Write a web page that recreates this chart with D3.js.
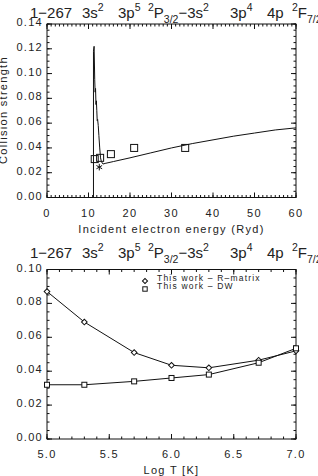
<!DOCTYPE html>
<html>
<head>
<meta charset="utf-8">
<script src="https://cdn.jsdelivr.net/npm/d3@7"></script>
<style>
  body { margin: 0; background: #fff; }
  svg { display: block; font-family: "Liberation Sans", Arial, sans-serif; }
  .lbl { fill: #222; font-size: 11px; letter-spacing: 1.3px; }
  .ttl { fill: #222; font-size: 15px; }
</style>
</head>
<body>
<div id="chart"></div>
<script>
// top panel: collision strength vs incident electron energy
const rmCurveE = [11.2, 11.2, 11.35, 11.5, 11.6, 11.7, 11.8, 11.9, 12.0, 12.1, 12.2, 12.35, 12.5, 12.7, 12.9, 13.1, 13.5, 14, 16, 20, 25, 30, 35, 40, 45, 50, 55, 60];
const rmCurveO = [0.0, 0.118, 0.122, 0.095, 0.085, 0.088, 0.075, 0.078, 0.07, 0.062, 0.063, 0.058, 0.05, 0.04, 0.032, 0.029, 0.027, 0.0275, 0.029, 0.032, 0.036, 0.0400, 0.0435, 0.0465, 0.0495, 0.052, 0.0545, 0.0562];
const dwE = [11.5, 12.8, 15.4, 21.0, 33.3];
const dwO = [0.031, 0.032, 0.035, 0.040, 0.040];
const starE = [12.6];
const starO = [0.0245];
const energyTicks = [0, 10, 20, 30, 40, 50, 60];
const omegaTicks = [0.00, 0.02, 0.04, 0.06, 0.08, 0.10, 0.12, 0.14];

// bottom panel: effective collision strength vs log T
const logT = [5.0, 5.3, 5.7, 6.0, 6.3, 6.7, 7.0];
const upsRm = [0.087, 0.069, 0.051, 0.0435, 0.042, 0.0465, 0.052];
const upsDw = [0.032, 0.032, 0.034, 0.036, 0.038, 0.045, 0.0535];
const logTTicks = [5.0, 5.5, 6.0, 6.5, 7.0];
const upsTicks = [0.00, 0.02, 0.04, 0.06, 0.08, 0.10];
const legendLabels = ["This work \u2013 R\u2013matrix", "This work \u2013 DW"];

// title pieces: [text, kind, group start x] kind 0 normal, 1 superscript, -1 subscript
const titleParts = [
    ["1\u2212267", 0, 30], ["3s", 0, 82], ["2", 1], ["3p", 0, 118], ["5", 1],
    ["2", 1, 148], ["P", 0], ["3/2", -1], ["\u22123s", 0], ["2", 1],
    ["3p", 0, 230], ["4", 1], ["4p", 0, 267], ["2", 1, 292], ["F", 0], ["7/2", -1]
];

const W = 318, H = 476;
const svg = d3.select("#chart").append("svg")
    .attr("width", W)
    .attr("height", H);

// framed IDL-style box with inward ticks on all four sides
function frame(x, y, xTicks, xMinor, yTicks, yMinor, xFmt, yFmt) {
    const g = svg.append("g");
    const [x0, x1] = x.range(), [y0, y1] = y.range();
    const ink = "#111";
    g.append("rect")
        .attr("x", x0).attr("y", y1)
        .attr("width", x1 - x0).attr("height", y0 - y1)
        .attr("fill", "none").attr("stroke", ink).attr("stroke-width", 1);
    const tick = (xa, ya, xb, yb) => g.append("line")
        .attr("x1", xa).attr("y1", ya).attr("x2", xb).attr("y2", yb)
        .attr("stroke", ink).attr("stroke-width", 1);
    xMinor.forEach(v => { tick(x(v), y0, x(v), y0 - 2.5); tick(x(v), y1, x(v), y1 + 2.5); });
    xTicks.forEach(v => { tick(x(v), y0, x(v), y0 - 5); tick(x(v), y1, x(v), y1 + 5); });
    yMinor.forEach(v => { tick(x0, y(v), x0 + 2.5, y(v)); tick(x1, y(v), x1 - 2.5, y(v)); });
    yTicks.forEach(v => { tick(x0, y(v), x0 + 5, y(v)); tick(x1, y(v), x1 - 5, y(v)); });
    g.selectAll(".xl").data(xTicks).enter().append("text")
        .attr("class", "lbl")
        .attr("x", d => x(d)).attr("y", y0 + 19)
        .attr("text-anchor", "middle")
        .text(xFmt);
    g.selectAll(".yl").data(yTicks).enter().append("text")
        .attr("class", "lbl")
        .attr("x", x0 - 4).attr("y", d => y(d) + 2)
        .attr("text-anchor", "end")
        .text(yFmt);
    return g;
}

function title(y) {
    const t = svg.append("text").attr("class", "ttl").attr("y", y);
    let prev = 0;
    titleParts.forEach(([s, k, gx]) => {
        const shift = k === 1 ? -7 : k === -1 ? 5 : 0;
        const ts = t.append("tspan").text(s).attr("dy", shift - prev);
        if (gx !== undefined) ts.attr("x", gx);
        if (k !== 0) ts.attr("font-size", "10.5px");
        prev = shift;
    });
}

// ---------- top panel ----------
const xE = d3.scaleLinear().domain([0, 60]).range([47, 296]);
const yO = d3.scaleLinear().domain([0, 0.14]).range([197.5, 24]);

title(18);
frame(xE, yO, energyTicks, d3.range(0, 61, 1), omegaTicks, d3.range(0, 0.1401, 0.005),
      d => d3.format("d")(d), d => d3.format(".2f")(d));

const curve = rmCurveE.map((e, i) => [e, rmCurveO[i]]);
svg.append("path")
    .datum(curve)
    .attr("fill", "none").attr("stroke", "#111").attr("stroke-width", 1)
    .attr("d", d3.line().x(d => xE(d[0])).y(d => yO(d[1])));

svg.selectAll(".dwTop").data(dwE.map((e, i) => [e, dwO[i]])).enter().append("rect")
    .attr("x", d => xE(d[0]) - 3.5).attr("y", d => yO(d[1]) - 3.5)
    .attr("width", 7).attr("height", 7)
    .attr("fill", "none").attr("stroke", "#111").attr("stroke-width", 1);

svg.selectAll(".star").data(starE.map((e, i) => [e, starO[i]])).enter().append("path")
    .attr("transform", d => `translate(${xE(d[0])},${yO(d[1])})`)
    .attr("d", d3.symbol(d3.symbolAsterisk, 30))
    .attr("fill", "none").attr("stroke", "#111").attr("stroke-width", 1);

svg.append("text")
    .attr("class", "lbl")
    .attr("x", (47 + 296) / 2).attr("y", 233)
    .attr("text-anchor", "middle")
    .text("Incident electron energy (Ryd)");

svg.append("text")
    .attr("class", "lbl")
    .attr("transform", "translate(7,110) rotate(-90)")
    .attr("text-anchor", "middle")
    .text("Collision strength");

// ---------- bottom panel ----------
const xT = d3.scaleLinear().domain([5, 7]).range([47, 296]);
const yU = d3.scaleLinear().domain([0, 0.10]).range([439, 269.5]);

title(257.5);
frame(xT, yU, logTTicks, d3.range(5, 7.001, 0.1), upsTicks, d3.range(0, 0.1001, 0.005),
      d => d3.format(".1f")(d), d => d3.format(".2f")(d));

const line2 = d3.line().x(d => xT(d[0])).y(d => yU(d[1]));
const rmPts = logT.map((t, i) => [t, upsRm[i]]);
const dwPts = logT.map((t, i) => [t, upsDw[i]]);

svg.append("path").datum(rmPts)
    .attr("fill", "none").attr("stroke", "#111").attr("stroke-width", 1).attr("d", line2);
svg.append("path").datum(dwPts)
    .attr("fill", "none").attr("stroke", "#111").attr("stroke-width", 1).attr("d", line2);

svg.selectAll(".dia").data(rmPts).enter().append("rect")
    .attr("transform", d => `translate(${xT(d[0])},${yU(d[1])}) rotate(45)`)
    .attr("x", -2).attr("y", -2).attr("width", 4).attr("height", 4)
    .attr("fill", "#fff").attr("stroke", "#111").attr("stroke-width", 1);
svg.selectAll(".sq").data(dwPts).enter().append("rect")
    .attr("x", d => xT(d[0]) - 2.5).attr("y", d => yU(d[1]) - 2.5)
    .attr("width", 5).attr("height", 5)
    .attr("fill", "#fff").attr("stroke", "#111").attr("stroke-width", 1);

// legend
const leg = svg.append("g").attr("transform", "translate(145,281)");
leg.append("rect")
    .attr("transform", "rotate(45)")
    .attr("x", -1.8).attr("y", -1.8).attr("width", 3.6).attr("height", 3.6)
    .attr("fill", "#fff").attr("stroke", "#111");
leg.append("rect")
    .attr("x", -2.2).attr("y", 5.8).attr("width", 4.4).attr("height", 4.4)
    .attr("fill", "#fff").attr("stroke", "#111");
leg.selectAll("text").data(legendLabels).enter().append("text")
    .attr("x", 12).attr("y", (d, i) => i * 8)
    .attr("font-size", "8.5px").attr("letter-spacing", "1.2px").attr("fill", "#222")
    .text(d => d);

svg.append("text")
    .attr("class", "lbl")
    .attr("x", (47 + 296) / 2).attr("y", 474)
    .attr("text-anchor", "middle")
    .text("Log T [K]");
</script>
</body>
</html>
